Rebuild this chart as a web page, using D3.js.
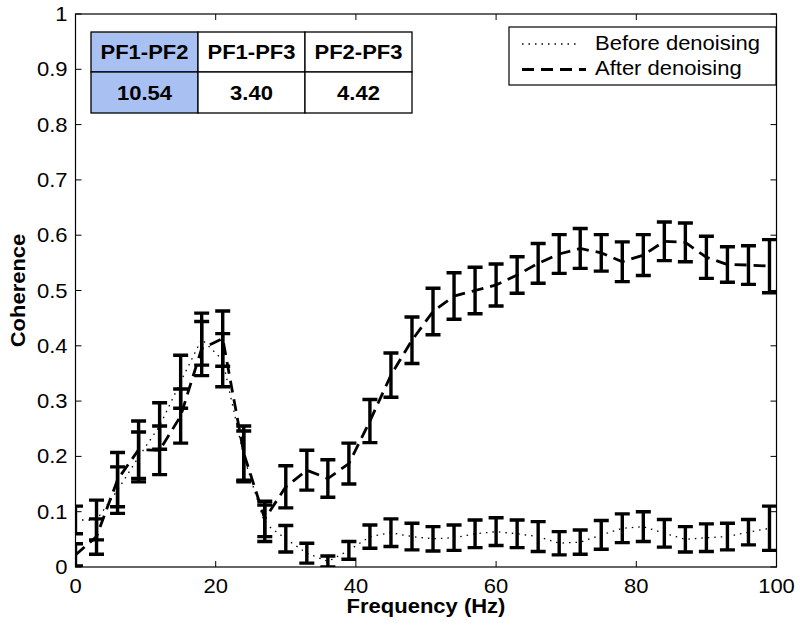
<!DOCTYPE html>
<html><head><meta charset="utf-8">
<script src="https://cdn.jsdelivr.net/npm/d3@7"></script>
<style>body{margin:0;background:#fff}svg{display:block}text{font-family:"Liberation Sans",Arial,sans-serif}</style>
</head><body><svg id="c" width="800" height="627"></svg>
<script>
const freqs = [0,3,6,9,12,15,18,21,24,27,30,33,36,39,42,45,48,51,54,57,60,63,66,69,72,75,78,81,84,87,90,93,96,99];
const afterMean = [0.022,0.055,0.158,0.212,0.211,0.273,0.395,0.413,0.206,0.087,0.145,0.175,0.160,0.187,0.264,0.347,0.410,0.462,0.490,0.500,0.510,0.528,0.549,0.566,0.576,0.568,0.552,0.564,0.589,0.587,0.560,0.547,0.546,0.544];
const afterErr  = [0.020,0.032,0.049,0.052,0.044,0.049,0.049,0.050,0.049,0.032,0.038,0.036,0.034,0.037,0.039,0.040,0.042,0.042,0.042,0.042,0.038,0.033,0.036,0.035,0.036,0.033,0.036,0.037,0.035,0.035,0.038,0.032,0.035,0.048];
const beforeMean = [0.085,0.085,0.139,0.199,0.255,0.335,0.412,0.374,0.200,0.079,0.051,0.025,0.010,0.030,0.055,0.062,0.055,0.051,0.053,0.060,0.064,0.060,0.055,0.043,0.045,0.058,0.070,0.073,0.061,0.050,0.053,0.055,0.063,0.070];
const beforeErr  = [0.025,0.036,0.042,0.045,0.042,0.048,0.047,0.048,0.046,0.033,0.024,0.018,0.010,0.016,0.021,0.025,0.024,0.022,0.023,0.025,0.025,0.025,0.027,0.021,0.022,0.026,0.026,0.027,0.025,0.023,0.025,0.024,0.023,0.040];
const xTicks = [0,20,40,60,80,100];
const yTicks = [0,0.1,0.2,0.3,0.4,0.5,0.6,0.7,0.8,0.9,1];
const tableHeaders = ["PF1-PF2","PF1-PF3","PF2-PF3"];
const tableValues = ["10.54","3.40","4.42"];
const legendLabels = ["Before denoising","After denoising"];

const svg = d3.select("#c");
const L=75.5, R=776.5, T=14, B=567;
const x = d3.scaleLinear().domain([0,100]).range([L,R]);
const y = d3.scaleLinear().domain([0,1]).range([B,T]);
const SX = 1.1, FS = 20;
function txt(px, py, s, anchor, bold, rot){
  return svg.append("text")
    .attr("transform",`translate(${px},${py})${rot?` rotate(${rot})`:""} scale(${SX},1)`)
    .attr("text-anchor",anchor).attr("font-size",FS)
    .attr("font-weight",bold?"bold":"normal").text(s);
}

svg.append("defs").append("clipPath").attr("id","pc").append("rect")
  .attr("x",L).attr("y",T).attr("width",R-L).attr("height",B-T);
const g = svg.append("g").attr("clip-path","url(#pc)");

const DOT = "1.5,5", DASH = "12,7";
const line = d3.line().x((d,i)=>x(freqs[i])).y(d=>y(d));
g.append("path").datum(beforeMean).attr("d",line).attr("fill","none")
  .attr("stroke","#000").attr("stroke-width",1.3).attr("stroke-dasharray",DOT);
g.append("path").datum(afterMean).attr("d",line).attr("fill","none")
  .attr("stroke","#000").attr("stroke-width",2.8).attr("stroke-dasharray",DASH);

function bars(means, errs){
  const cw = 7.5;
  means.forEach((m,i)=>{
    const cx = x(freqs[i]), y1 = y(m+errs[i]), y2 = y(m-errs[i]);
    const p = `M${cx},${y1}V${y2}M${cx-cw},${y1}H${cx+cw}M${cx-cw},${y2}H${cx+cw}`;
    g.append("path").attr("d",p).attr("stroke","#000").attr("stroke-width",3.4).attr("fill","none");
  });
}
bars(beforeMean,beforeErr);
bars(afterMean,afterErr);

// axes box
svg.append("rect").attr("x",L).attr("y",T).attr("width",R-L).attr("height",B-T)
  .attr("fill","none").attr("stroke","#000").attr("stroke-width",1.2);

const tl = 6;
xTicks.forEach(t=>{
  svg.append("line").attr("x1",x(t)).attr("x2",x(t)).attr("y1",B).attr("y2",B-tl).attr("stroke","#000");
  svg.append("line").attr("x1",x(t)).attr("x2",x(t)).attr("y1",T).attr("y2",T+tl).attr("stroke","#000");
  txt(x(t), 593, d3.format("d")(t), "middle");
});
yTicks.forEach(t=>{
  svg.append("line").attr("x1",L).attr("x2",L+tl).attr("y1",y(t)).attr("y2",y(t)).attr("stroke","#000");
  svg.append("line").attr("x1",R).attr("x2",R-tl).attr("y1",y(t)).attr("y2",y(t)).attr("stroke","#000");
  txt(L-8, y(t)+7, t===0?"0":t===1?"1":d3.format(".1f")(t), "end");
});
txt((L+R)/2, 613, "Frequency (Hz)", "middle", true);
txt(25, (T+B)/2, "Coherence", "middle", true, -90);

// table
const colX = [91,198,305,412], rowY = [32,72,113];
tableHeaders.forEach((h,i)=>{
  [h,tableValues[i]].forEach((s,r)=>{
    svg.append("rect").attr("x",colX[i]).attr("y",rowY[r]).attr("width",colX[i+1]-colX[i]).attr("height",rowY[r+1]-rowY[r])
      .attr("fill",i===0?"#a9c0f2":"#fff").attr("stroke","#000").attr("stroke-width",1.3);
    txt((colX[i]+colX[i+1])/2, (rowY[r]+rowY[r+1])/2+7, s, "middle", true);
  });
});

// legend
svg.append("rect").attr("x",509).attr("y",27).attr("width",267).attr("height",58)
  .attr("fill","#fff").attr("stroke","#000").attr("stroke-width",1.2);
const lg = [{y:44,da:DOT,w:1.3,x2:577},{y:69.5,da:DASH,w:2.8,x2:586}];
lg.forEach((d,i)=>{
  svg.append("line").attr("x1",522).attr("x2",d.x2).attr("y1",d.y).attr("y2",d.y)
    .attr("stroke","#000").attr("stroke-width",d.w).attr("stroke-dasharray",d.da);
  txt(595, d.y+5.5, legendLabels[i], "start");
});
</script></body></html>
